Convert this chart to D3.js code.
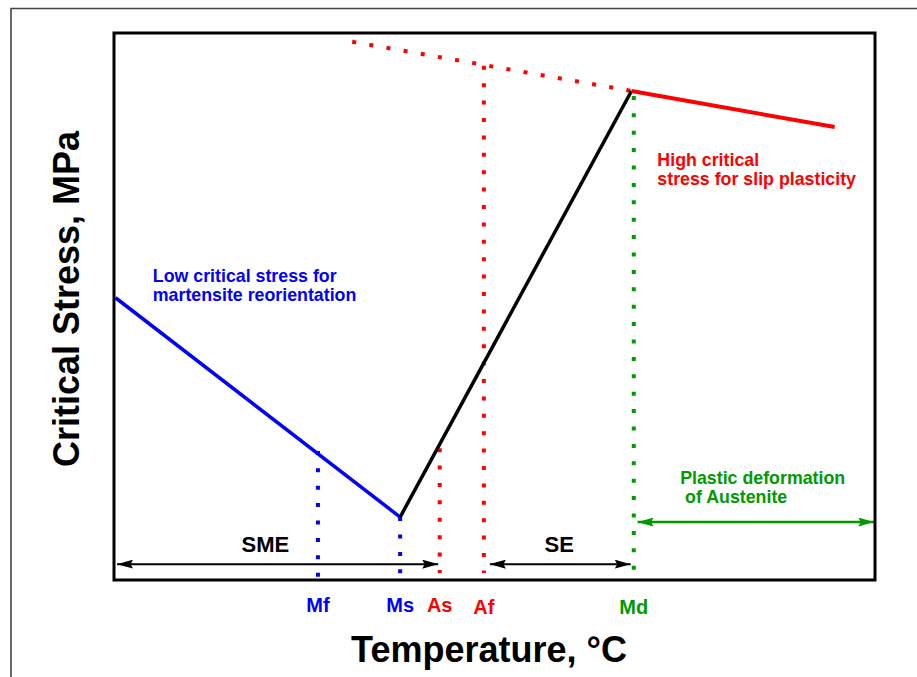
<!DOCTYPE html>
<meta charset="utf-8">
<style>
body { margin: 0; background: #fff; }
text { font-family: "Liberation Sans", Arial, sans-serif; font-weight: bold; }
.note { font-size: 17.8px; white-space: pre; }
.tlabel { font-size: 20px; }
.region { font-size: 22px; }
.title { font-size: 36px; }
</style>
<svg width="917" height="677"></svg>
<script src="https://cdn.jsdelivr.net/npm/d3@7"></script>
<script>

// transformation temperatures (schematic units)
var transitions = ["Mf", "Ms", "As", "Af", "Md"];
var transitionTemp = [26.8, 37.6, 42.8, 48.6, 68.3];
var transitionTop = [23.6, 11.5, 24.1, 94.0, 88.5];
var transitionBottom = [0, -0.7, 1.3, 1.3, -0.5];
var transitionColor = ["#0000ff", "#0000ff", "#ff0000", "#ff0000", "#009a00"];

// critical stress curves
var reorientTemp = [0.2, 37.6];
var reorientStress = [51.6, 11.5];
var inducedTemp = [37.6, 68.0];
var inducedStress = [11.5, 89.4];
var slipTemp = [68.0, 94.7];
var slipStress = [89.4, 82.8];
var slipExtTemp = [31.3, 68.0];
var slipExtStress = [98.4, 89.4];

// temperature ranges shown with arrows
var ranges = ["SME", "SE", ""];
var rangeFrom = [0.4, 49.4, 68.8];
var rangeTo = [42.6, 67.9, 99.9];
var rangeStress = [2.9, 2.9, 10.6];
var rangeLabelStress = [5.1, 5.1, 0];

var svg = d3.select("svg");

var x = d3.scaleLinear().domain([0, 100]).range([114, 875]);
var y = d3.scaleLinear().domain([0, 100]).range([580, 33]);

var line = d3.line()
    .x(function(d) { return x(d[0]); })
    .y(function(d) { return y(d[1]); });

function pts(t, s) { return t.map(function(v, i) { return [v, s[i]]; }); }

// outer page frame
svg.append("path")
    .attr("d", "M11,677 L11,8.5 L917,8.5")
    .attr("fill", "none")
    .attr("stroke", "#444")
    .attr("stroke-width", 1.6);

// arrow markers
var defs = svg.append("defs");
[["arrowBlack", "#000"], ["arrowGreen", "#009a00"]].forEach(function(m) {
    defs.append("marker")
        .attr("id", m[0])
        .attr("viewBox", "0 0 16 9")
        .attr("refX", 16)
        .attr("refY", 4.5)
        .attr("markerUnits", "userSpaceOnUse")
        .attr("markerWidth", 16)
        .attr("markerHeight", 9)
        .attr("orient", "auto-start-reverse")
      .append("path")
        .attr("d", "M0,0 L16,4.5 L0,9 L2.5,4.5 Z")
        .attr("fill", m[1]);
});

// vertical dotted transition lines
svg.append("g")
  .selectAll("line")
  .data(transitions)
  .enter().append("line")
    .attr("x1", function(d, i) { return x(transitionTemp[i]); })
    .attr("x2", function(d, i) { return x(transitionTemp[i]); })
    .attr("y1", function(d, i) { return y(transitionTop[i]); })
    .attr("y2", function(d, i) { return y(transitionBottom[i]); })
    .attr("stroke", function(d, i) { return transitionColor[i]; })
    .attr("stroke-width", 4)
    .attr("stroke-dasharray", "4 13.4");

// dotted extension of slip stress
svg.append("path")
    .attr("d", line(pts(slipExtTemp, slipExtStress)))
    .attr("fill", "none")
    .attr("stroke", "#ff0000")
    .attr("stroke-width", 4)
    .attr("stroke-dasharray", "4 13.4");

// stress curves
svg.append("path")
    .attr("d", line(pts(reorientTemp, reorientStress)))
    .attr("fill", "none")
    .attr("stroke", "#0000ff")
    .attr("stroke-width", 3.5);

svg.append("path")
    .attr("d", line(pts(inducedTemp, inducedStress)))
    .attr("fill", "none")
    .attr("stroke", "#000")
    .attr("stroke-width", 3.5);

svg.append("path")
    .attr("d", line(pts(slipTemp, slipStress)))
    .attr("fill", "none")
    .attr("stroke", "#ff0000")
    .attr("stroke-width", 4);

// range arrows
svg.append("g")
  .selectAll("line")
  .data(ranges)
  .enter().append("line")
    .attr("x1", function(d, i) { return x(rangeFrom[i]); })
    .attr("x2", function(d, i) { return x(rangeTo[i]); })
    .attr("y1", function(d, i) { return y(rangeStress[i]); })
    .attr("y2", function(d, i) { return y(rangeStress[i]); })
    .attr("stroke", function(d) { return d ? "#000" : "#009a00"; })
    .attr("stroke-width", function(d) { return d ? 2 : 2.5; })
    .attr("marker-start", function(d) { return d ? "url(#arrowBlack)" : "url(#arrowGreen)"; })
    .attr("marker-end", function(d) { return d ? "url(#arrowBlack)" : "url(#arrowGreen)"; });

svg.append("g")
  .selectAll("text")
  .data(ranges.filter(function(d) { return d; }))
  .enter().append("text")
    .attr("class", "region")
    .attr("x", function(d, i) { return x(i == 0 ? 19.9 : 58.5); })
    .attr("y", function(d, i) { return y(rangeLabelStress[i]); })
    .attr("text-anchor", "middle")
    .text(function(d) { return d; });

// plot frame
svg.append("rect")
    .attr("x", x(0))
    .attr("y", y(100))
    .attr("width", x(100) - x(0))
    .attr("height", y(0) - y(100))
    .attr("fill", "none")
    .attr("stroke", "#000")
    .attr("stroke-width", 3);

// transition labels
svg.append("g")
  .selectAll("text")
  .data(transitions)
  .enter().append("text")
    .attr("class", "tlabel")
    .attr("x", function(d, i) { return x(transitionTemp[i]); })
    .attr("y", function(d, i) { return i < 3 ? 612 : 614; })
    .attr("text-anchor", "middle")
    .attr("fill", function(d, i) { return transitionColor[i]; })
    .text(function(d) { return d; });

// notes
var notes = [
    {lines: ["Low critical stress for", "martensite reorientation"], t: 5.1, s: 54.5, color: "#0000ff"},
    {lines: ["High critical", "stress for slip plasticity"], t: 71.4, s: 75.7, color: "#ff0000"},
    {lines: ["Plastic deformation", " of Austenite"], t: 74.4, s: 17.6, color: "#009a00"}
];

notes.forEach(function(n) {
    var t = svg.append("text")
        .attr("class", "note")
        .attr("fill", n.color)
        .attr("x", x(n.t))
        .attr("y", y(n.s));
    n.lines.forEach(function(l, i) {
        t.append("tspan")
            .attr("x", x(n.t))
            .attr("dy", i ? 19.5 : 0)
            .text(l);
    });
});

// axis titles
svg.append("text")
    .attr("class", "title")
    .attr("x", 489)
    .attr("y", 662)
    .attr("text-anchor", "middle")
    .text("Temperature, \u00b0C");

svg.append("text")
    .attr("class", "title")
    .attr("transform", "translate(79,299) rotate(-90)")
    .attr("text-anchor", "middle")
    .text("Critical Stress, MPa");

</script>
